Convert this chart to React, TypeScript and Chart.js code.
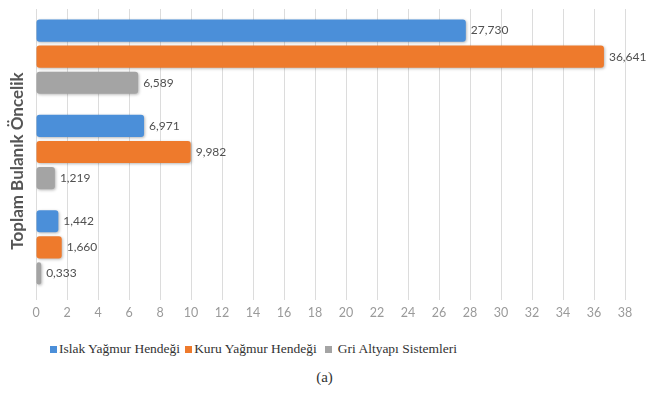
import React, { useEffect, useRef } from "react";
import { Chart, registerables } from "chart.js";

Chart.register(...registerables);

const categories = ["A", "B", "C"];
const seriesNames = ["Islak Yağmur Hendeği", "Kuru Yağmur Hendeği", "Gri Altyapı Sistemleri"];
const islakValues = [27.73, 6.971, 1.442];
const kuruValues = [36.641, 9.982, 1.66];
const griValues = [6.589, 1.219, 0.333];
const seriesColors = ["#4B8FD9", "#EE7A2C", "#A4A4A4"];
const xMin = 0;
const xMax = 38;
const xStep = 2;
const yTitle = "Toplam Bulanık Öncelik";
const caption = "(a)";

const fmt = (v: number) => v.toFixed(3).replace(".", ",");

const labelPlugin = {
  id: "valueLabels",
  beforeDatasetsDraw(chart: any) {
    const ctx = chart.ctx;
    ctx.save();
    ctx.shadowColor = "rgba(0,0,0,0.28)";
    ctx.shadowBlur = 3;
    ctx.shadowOffsetX = 1;
    ctx.shadowOffsetY = 1;
  },
  afterDatasetsDraw(chart: any) {
    const ctx = chart.ctx;
    ctx.restore();
    ctx.save();
    ctx.font = "12px Lato";
    ctx.fillStyle = "#505050";
    ctx.textBaseline = "middle";
    ctx.textAlign = "left";
    chart.data.datasets.forEach((ds: any, i: number) => {
      const meta = chart.getDatasetMeta(i);
      meta.data.forEach((bar: any, j: number) => {
        ctx.fillText(fmt(ds.data[j]), bar.x + 5, bar.y);
      });
    });
    ctx.restore();
  },
  afterDraw(chart: any) {
    const ctx = chart.ctx;
    const area = chart.chartArea;
    ctx.save();
    ctx.translate(18, (area.top + area.bottom) / 2 + 9);
    ctx.rotate(-Math.PI / 2);
    ctx.font = "bold 17px Lato";
    ctx.fillStyle = "#555555";
    ctx.textAlign = "center";
    ctx.textBaseline = "middle";
    ctx.fillText(yTitle, 0, 0);
    ctx.restore();
  },
};

export default function App() {
  const ref = useRef<HTMLCanvasElement>(null);
  useEffect(() => {
    if (!ref.current) return;
    const values = [islakValues, kuruValues, griValues];
    const chart = new Chart(ref.current, {
      type: "bar",
      data: {
        labels: categories,
        datasets: values.map((d, i) => ({
          label: seriesNames[i],
          data: d,
          backgroundColor: seriesColors[i],
          borderRadius: 3,
          borderSkipped: false,
          categoryPercentage: 0.82,
          barPercentage: 0.85,
        })),
      },
      options: {
        indexAxis: "y",
        animation: false,
        responsive: false,
        layout: { padding: { top: 9, right: 24, left: 0, bottom: 0 } },
        plugins: {
          legend: { display: false },
          tooltip: { enabled: false },
        },
        scales: {
          x: {
            min: xMin,
            max: xMax,
            ticks: {
              stepSize: xStep,
              color: "#9a9a9a",
              font: { family: "Lato", size: 12.5 },
              padding: 5,
              maxRotation: 0,
            },
            grid: { color: "#dcdcdc", tickLength: 5, drawTicks: true },
            border: { display: false },
            afterFit: (s: any) => {
              s.height = 35;
            },
          },
          y: {
            ticks: { display: false },
            grid: { display: false },
            border: { display: false },
            afterFit: (s: any) => {
              s.width = 36;
            },
          },
        },
      },
      plugins: [labelPlugin],
    });
    return () => chart.destroy();
  }, []);

  return (
    <div style={{ position: "absolute", left: 0, top: 0, width: 649, height: 405, background: "#fff" }}>
      <canvas ref={ref} width={649} height={330} style={{ display: "block" }} />
      <div
        style={{
          position: "absolute",
          left: 50,
          top: 341,
          display: "flex",
          alignItems: "center",
          fontFamily: "'Liberation Serif', 'Times New Roman', 'DejaVu Serif', serif",
          fontSize: 13.5,
          color: "#333",
          whiteSpace: "nowrap",
        }}
      >
        {seriesNames.map((n, i) => (
          <span key={n} style={{ display: "flex", alignItems: "center", marginRight: 5 }}>
            <span
              style={{
                display: "inline-block",
                width: 7,
                height: 7,
                background: seriesColors[i],
                marginRight: i === 2 ? 6 : 2,
                marginLeft: i === 2 ? 3 : 0,
              }}
            />
            {n}
          </span>
        ))}
      </div>
      <div
        style={{
          position: "absolute",
          left: 0,
          width: 649,
          top: 369,
          textAlign: "center",
          fontFamily: "'Liberation Serif', 'Times New Roman', serif",
          fontSize: 15,
          color: "#333",
        }}
      >
        {caption}
      </div>
    </div>
  );
}
